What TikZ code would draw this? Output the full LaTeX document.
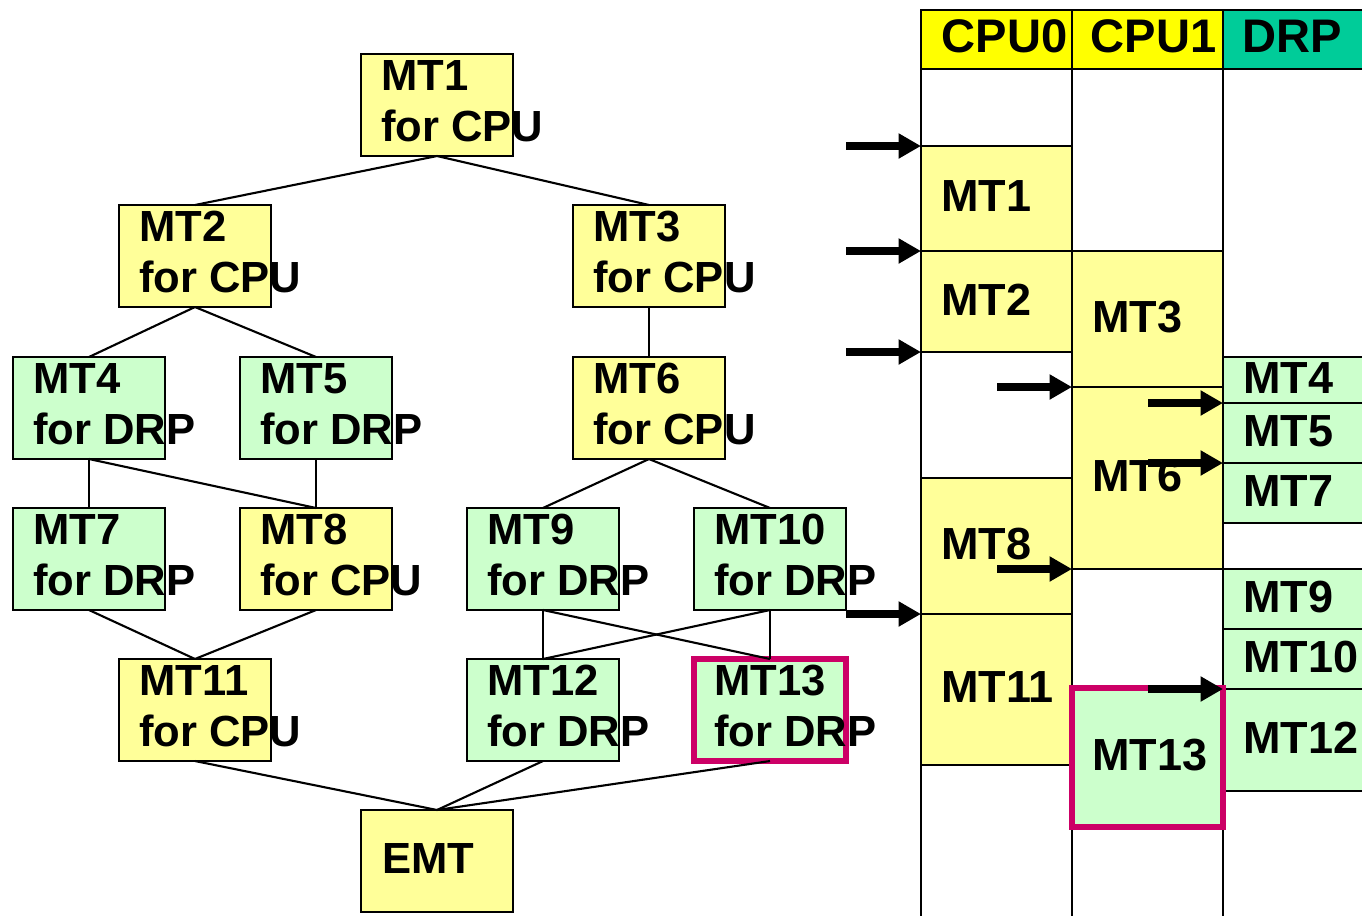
\documentclass[tikz,border=0pt]{standalone}
\usepackage{fontspec}
\setmainfont{Liberation Sans}
\usetikzlibrary{arrows.meta,fit}
\definecolor{ly}{HTML}{FFFF99}
\definecolor{lg}{HTML}{CCFFCC}
\definecolor{mag}{HTML}{CC0066}
\definecolor{hy}{HTML}{FFFF00}
\definecolor{hg}{HTML}{00CC99}
\newcommand\mtlabels[3]{%
  \node[txt] (#1a) at ([shift={(20,37)}]#1.north west) {#2};
  \node[txt] (#1b) at ([shift={(20,88)}]#1.north west) {#3};}
\newcommand\blkbox[6]{%
  \node[blk, fill=#6, fit={(#2,#3) (#4,#5)}] (#1) {};}
\newcommand\blklabel[2]{%
  \node[gtxt] (#1t) at ([shift={(20,-2)}]#1.west) {#2};}
\begin{document}
\begin{tikzpicture}[x=0.025cm,y=-0.025cm,
  box/.style={draw=black, line width=1.5pt, minimum width=3.8cm, minimum height=2.55cm, inner sep=0pt, outer sep=0pt},
  ybox/.style={box, fill=ly}, gbox/.style={box, fill=lg},
  txt/.style={font=\fontsize{31}{36}\selectfont\bfseries, inner sep=0pt, anchor=base west},
  gtxt/.style={font=\fontsize{32}{36}\selectfont\bfseries, inner sep=0pt, anchor=west},
  htxt/.style={font=\fontsize{33.5}{36}\selectfont\bfseries},
  edge/.style={line width=1.5pt},
  blk/.style={draw=black, line width=1.5pt, inner sep=0pt, outer sep=0pt},
  hdr/.style={draw=black, line width=2pt, inner sep=0pt, outer sep=0pt},
  colline/.style={line width=2pt},
  arr/.style={line width=5.5pt, -{Triangle[length=16pt,width=17pt]}}
]
\useasboundingbox (0,0) rectangle (1362,916);
% ---------- left graph ----------
\node[ybox] (MT1) at (437,105) {};
\node[ybox] (MT2) at (195,256) {};
\node[ybox] (MT3) at (649,256) {};
\node[gbox] (MT4) at (89,408) {};
\node[gbox] (MT5) at (316,408) {};
\node[ybox] (MT6) at (649,408) {};
\node[gbox] (MT7) at (89,559) {};
\node[ybox] (MT8) at (316,559) {};
\node[gbox] (MT9) at (543,559) {};
\node[gbox] (MT10) at (770,559) {};
\node[ybox] (MT11) at (195,710) {};
\node[gbox] (MT12) at (543,710) {};
\node[gbox, draw=mag, line width=4.3pt] (MT13) at (770,710) {};
\node[ybox] (EMT) at (437,861) {};

\draw[edge] (MT1.south) -- (MT2.north);
\draw[edge] (MT1.south) -- (MT3.north);
\draw[edge] (MT2.south) -- (MT4.north);
\draw[edge] (MT2.south) -- (MT5.north);
\draw[edge] (MT3.south) -- (MT6.north);
\draw[edge] (MT4.south) -- (MT7.north);
\draw[edge] (MT4.south) -- (MT8.north);
\draw[edge] (MT5.south) -- (MT8.north);
\draw[edge] (MT6.south) -- (MT9.north);
\draw[edge] (MT6.south) -- (MT10.north);
\draw[edge] (MT7.south) -- (MT11.north);
\draw[edge] (MT8.south) -- (MT11.north);
\draw[edge] (MT9.south) -- (MT12.north);
\draw[edge] (MT9.south) -- (MT13.north);
\draw[edge] (MT10.south) -- (MT12.north);
\draw[edge] (MT10.south) -- (MT13.north);
\draw[edge] (MT11.south) -- (EMT.north);
\draw[edge] (MT12.south) -- (EMT.north);
\draw[edge] (MT13.south) -- (EMT.north);

\mtlabels{MT1}{MT1}{for CPU}
\mtlabels{MT2}{MT2}{for CPU}
\mtlabels{MT3}{MT3}{for CPU}
\mtlabels{MT4}{MT4}{for DRP}
\mtlabels{MT5}{MT5}{for DRP}
\mtlabels{MT6}{MT6}{for CPU}
\mtlabels{MT7}{MT7}{for DRP}
\mtlabels{MT8}{MT8}{for CPU}
\mtlabels{MT9}{MT9}{for DRP}
\mtlabels{MT10}{MT10}{for DRP}
\mtlabels{MT11}{MT11}{for CPU}
\mtlabels{MT12}{MT12}{for DRP}
\mtlabels{MT13}{MT13}{for DRP}
\node[txt] (EMTa) at ([shift={(21,63)}]EMT.north west) {EMT};

% ---------- right chart ----------
\blkbox{g1}{921}{146}{1072}{251}{ly}
\blkbox{g2}{921}{251}{1072}{352}{ly}
\blkbox{g8}{921}{478}{1072}{614}{ly}
\blkbox{g11}{921}{614}{1072}{765}{ly}
\blkbox{g3}{1072}{251}{1223}{387}{ly}
\blkbox{g6}{1072}{387}{1223}{569}{ly}
\blkbox{g4}{1223}{357}{1366}{403}{lg}
\blkbox{g5}{1223}{403}{1366}{463}{lg}
\blkbox{g7}{1223}{463}{1366}{523}{lg}
\blkbox{g9}{1223}{569}{1366}{629}{lg}
\blkbox{g10}{1223}{629}{1366}{689}{lg}
\blkbox{g12}{1223}{689}{1366}{791}{lg}

\node[hdr, fill=hy, fit={(921,10) (1072,69)}] (h0) {};
\node[hdr, fill=hy, fit={(1072,10) (1223,69)}] (h1) {};
\node[hdr, fill=hg, fit={(1223,10) (1366,69)}] (h2) {};
\node[htxt] (h0t) at ([shift={(8,-3)}]h0.center) {CPU0};
\node[htxt] (h1t) at ([shift={(6,-3)}]h1.center) {CPU1};
\node[htxt] (h2t) at ([shift={(-2,-3)}]h2.center) {DRP};

\coordinate (e0) at (921,916);
\coordinate (e1) at (1072,916);
\coordinate (e2) at (1223,916);
\draw[colline] (h0.south west) -- (e0);
\draw[colline] (h1.south west) -- (e1);
\draw[colline] (h2.south west) -- (e2);

\node[blk, fill=lg, draw=mag, line width=4.3pt, fit={(1072,688) (1223,827)}] (g13) {};

\blklabel{g1}{MT1}
\blklabel{g2}{MT2}
\blklabel{g8}{MT8}
\blklabel{g11}{MT11}
\blklabel{g3}{MT3}
\blklabel{g6}{MT6}
\blklabel{g13}{MT13}
\blklabel{g4}{MT4}
\blklabel{g5}{MT5}
\blklabel{g7}{MT7}
\blklabel{g9}{MT9}
\blklabel{g10}{MT10}
\node[gtxt] (g12t) at ([shift={(20,-2)}]g12.west -| g10.west) {MT12};

\coordinate (a1) at (846,146);
\coordinate (a2) at (846,251);
\coordinate (a3) at (846,352);
\coordinate (a4) at (997,387);
\coordinate (a5) at (1148,403);
\coordinate (a6) at (1148,463);
\coordinate (a7) at (997,569);
\coordinate (a8) at (846,614);
\coordinate (a9) at (1148,689);
\draw[arr] (a1) -- (g1.north west);
\draw[arr] (a2) -- (g2.north west);
\draw[arr] (a3) -- (g2.south west);
\draw[arr] (a4) -- (g6.north west);
\draw[arr] (a5) -- (g5.north west);
\draw[arr] (a6) -- (g7.north west);
\draw[arr] (a7) -- (g6.south west);
\draw[arr] (a8) -- (g11.north west);
\draw[arr] (a9) -- (g12.north west);
\end{tikzpicture}
\end{document}
